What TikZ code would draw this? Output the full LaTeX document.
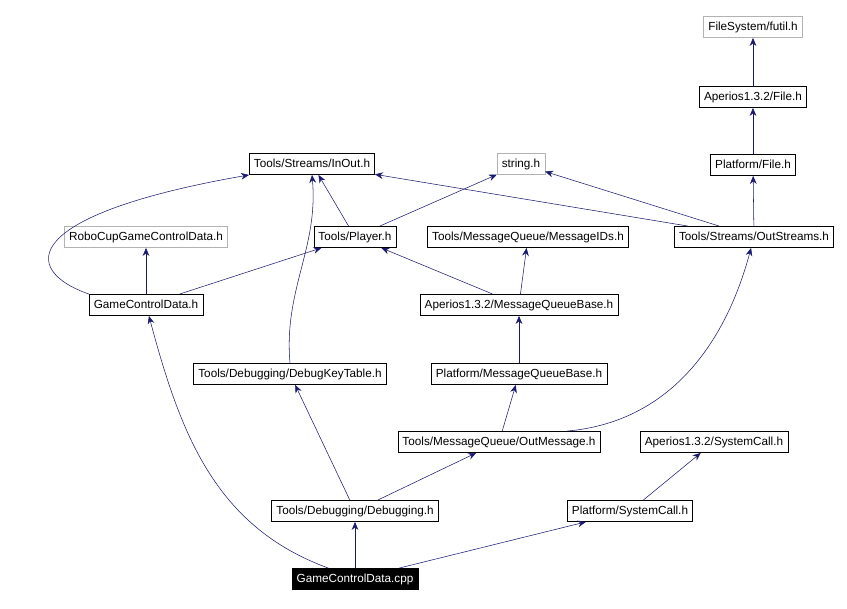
\documentclass[tikz,border=0pt]{standalone}
\usepackage{fontspec}
\setmainfont{Liberation Sans}
\usetikzlibrary{arrows.meta}
\definecolor{edgeblue}{RGB}{25,25,112}
\begin{document}
\begin{tikzpicture}[
        x=0.75pt, y=-0.75pt,
        file/.style={draw=black, fill=white, inner sep=0pt, minimum height=16pt, text height=6.5pt, text depth=1.8pt, inner xsep=3.5pt, font=\fontsize{8.8}{10}\selectfont},
        ext/.style={file, draw=black!30},
        main/.style={file, fill=black, text=white},
        inc/.style={draw=edgeblue, -{Stealth[length=6pt, width=5pt]}},
    ]
    \useasboundingbox (0,0) rectangle (847,609);

    % headers, top to bottom
    \node[ext]  (futil)     at (753,27)  {FileSystem/futil.h};
    \node[file] (aFile)     at (753,97)  {Aperios1.3.2/File.h};
    \node[file] (pFile)     at (753,165) {Platform/File.h};
    \node[file] (inOut)     at (312,164) {Tools/Streams/InOut.h};
    \node[ext]  (string)    at (521,164) {string.h};
    \node[ext]  (robocup)   at (146,237) {RoboCupGameControlData.h};
    \node[file] (player)    at (355,237) {Tools/Player.h};
    \node[file] (msgIDs)    at (528,237) {Tools/MessageQueue/MessageIDs.h};
    \node[file] (outStr)    at (754,237) {Tools/Streams/OutStreams.h};
    \node[file] (gcdH)      at (146,305) {GameControlData.h};
    \node[file] (aMQB)      at (519,305) {Aperios1.3.2/MessageQueueBase.h};
    \node[file] (keyTable)  at (290,374) {Tools/Debugging/DebugKeyTable.h};
    \node[file] (pMQB)      at (519,374) {Platform/MessageQueueBase.h};
    \node[file] (outMsg)    at (499,442) {Tools/MessageQueue/OutMessage.h};
    \node[file] (aSysCall)  at (714,442) {Aperios1.3.2/SystemCall.h};
    \node[file] (debugging) at (355,511) {Tools/Debugging/Debugging.h};
    \node[file] (pSysCall)  at (630,511) {Platform/SystemCall.h};
    \node[main] (gcdCpp)    at (355,579) {GameControlData.cpp};

    % include edges
    \draw[inc] ([xshift=-20pt]gcdCpp.north) to[out=160,in=-75] (gcdH);
    \draw[inc] (gcdCpp) -- (debugging);
    \draw[inc] (gcdCpp) -- (pSysCall);
    \draw[inc] (debugging) -- (keyTable);
    \draw[inc] (debugging) -- (outMsg);
    \draw[inc] (pSysCall) -- (aSysCall);
    \draw[inc] (outMsg) -- (pMQB);
    \draw[inc] ([xshift=-25pt]outMsg.north east) to[out=5,in=-105] (outStr);
    \draw[inc] (pMQB) -- (aMQB);
    \draw[inc] (aMQB) -- (msgIDs);
    \draw[inc] (aMQB) -- (player);
    \draw[inc] (keyTable.north) to[out=95,in=-85] (inOut.south);
    \draw[inc] (gcdH) -- (robocup);
    \draw[inc] (gcdH) -- (player);
    \draw[inc] (gcdH.north west) .. controls (20,270) and (20,215) .. (inOut.south west);
    \draw[inc] (player) -- (inOut);
    \draw[inc] (player) -- (string);
    \draw[inc] (outStr) -- (inOut);
    \draw[inc] (outStr) -- (string);
    \draw[inc] (outStr) -- (pFile);
    \draw[inc] (pFile) -- (aFile);
    \draw[inc] (aFile) -- (futil);
\end{tikzpicture}
\end{document}
